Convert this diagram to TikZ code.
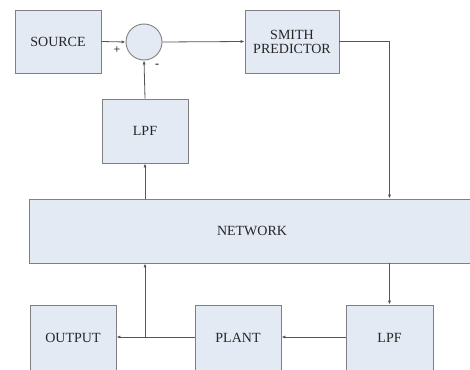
\documentclass[tikz,border=0pt]{standalone}
\usepackage{fontspec}
\setmainfont{Liberation Serif}
\usetikzlibrary{arrows.meta}
\definecolor{boxfill}{HTML}{E3EAF4}
\definecolor{boxline}{HTML}{808080}
\definecolor{wire}{HTML}{555555}
\begin{document}
\begin{tikzpicture}[x=1pt,y=-1pt,
  blk/.style={draw=boxline,fill=boxfill,line width=0.9pt,inner sep=0pt,font=\fontsize{14}{15}\selectfont,text=black!85,align=center},
  arr/.style={draw=wire,line width=0.8pt,-{Latex[length=4pt,width=3.2pt]}},
  wirel/.style={draw=wire,line width=0.8pt}]
\useasboundingbox (0,0) rectangle (470,369);
\clip (0,0) rectangle (470,369);
\node[blk,minimum width=86pt,minimum height=63pt] (src) at (58,41.5) {SOURCE};
\node[draw=boxline,fill=boxfill,line width=0.9pt,circle,minimum size=36pt,inner sep=0pt] (sum) at (144,42) {};
\node[blk,minimum width=94pt,minimum height=63pt] (smith) at (292,41.5) {SMITH\\[-1pt]PREDICTOR};
\node[blk,minimum width=86pt,minimum height=64pt] (lpfa) at (145,131) {LPF};
\node[blk,minimum width=446pt,minimum height=64pt] (net) at (252,231) {NETWORK};
\node[blk,minimum width=86pt,minimum height=66pt] (out) at (73,338) {OUTPUT};
\node[blk,minimum width=86pt,minimum height=66pt] (plant) at (238,338) {PLANT};
\node[blk,minimum width=87pt,minimum height=66pt] (lpfb) at (389.5,338) {LPF};
\node[font=\fontsize{12}{12}\selectfont] (plus) at (117,50) {+};
\node[font=\fontsize{12}{12}\selectfont] (minus) at (157,66) {-};
\coordinate (j) at (145,337);
\draw[arr] (src.east) -- (sum.west);
\draw[arr] (sum.east) -- (smith.west);
\draw[arr] (smith.east) -| (net.north -| lpfb.north);
\draw[arr] (net.south -| lpfb.north) -- (lpfb.north);
\draw[arr] (lpfb.west |- j) -- (plant.east |- j);
\draw[arr] (plant.west |- j) -- (out.east |- j);
\draw[arr] (j) -- (j |- net.south);
\draw[arr] (net.north -| lpfa.south) -- (lpfa.south);
\draw[arr] (lpfa.north) -- (sum.south);
\end{tikzpicture}
\end{document}
